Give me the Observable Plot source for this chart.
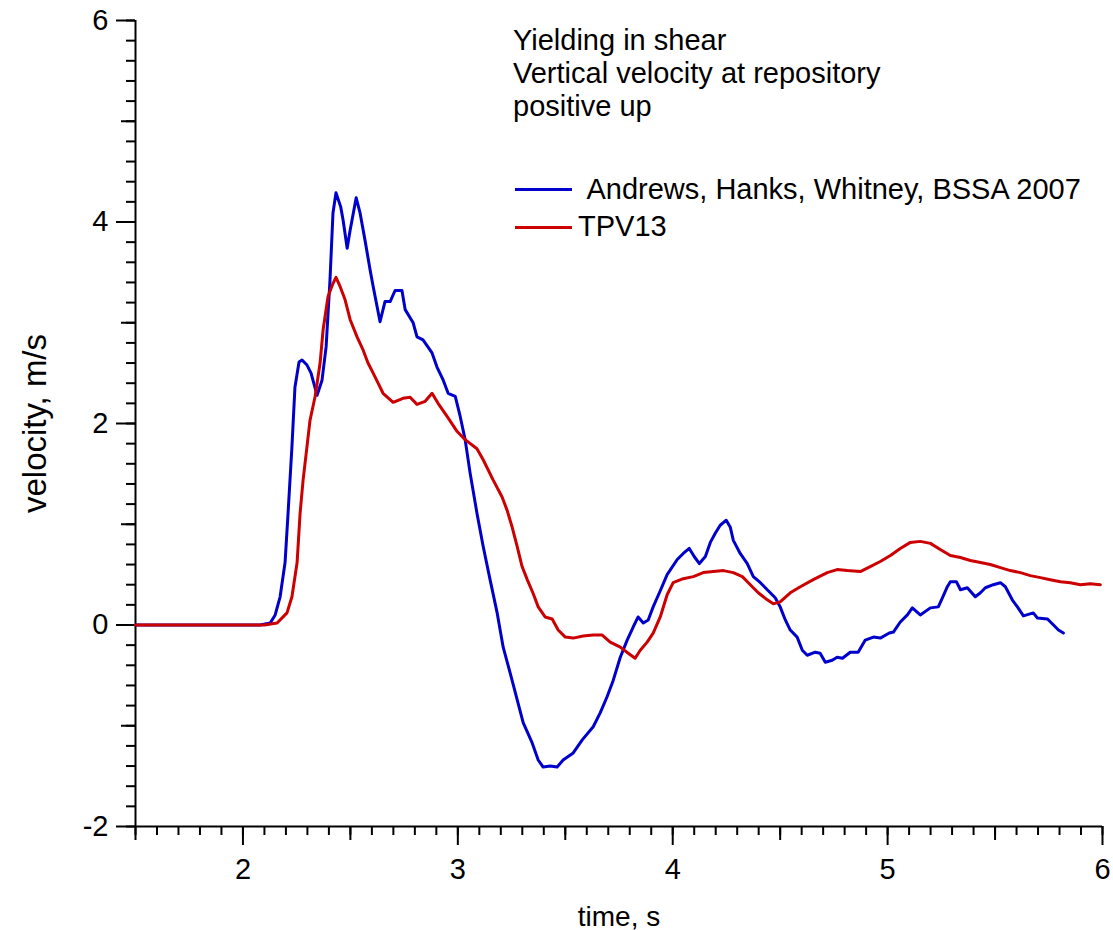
<!DOCTYPE html>
<html>
<head>
<meta charset="utf-8">
<script src="https://cdn.jsdelivr.net/npm/d3@7"></script>
<script src="https://cdn.jsdelivr.net/npm/@observablehq/plot@0.6"></script>
<style>
  body { margin: 0; background: #fff; }
  #wrap { position: relative; width: 1113px; height: 930px; overflow: hidden; font-family: "Liberation Sans", Arial, sans-serif; }
  #notes { position: absolute; left: 513px; top: 24px; font-size: 29px; line-height: 33px; color: #000; }
  .leg { position: absolute; font-size: 29px; white-space: pre; color: #000; }
  .sw { position: absolute; height: 3px; }
</style>
</head>
<body>
<div id="wrap">
  <div id="chart"></div>
  <div id="notes"></div>
  <div id="legend"></div>
</div>
<script>
// ---- data ----
const blueName = "Andrews, Hanks, Whitney, BSSA 2007";
const redName = "TPV13";
const notes = ["Yielding in shear", "Vertical velocity at repository", "positive up"];
const xLabel = "time, s";
const yLabel = "velocity, m/s";

const blueT = [1.5, 2.08, 2.127, 2.15, 2.173, 2.196, 2.21, 2.228, 2.242, 2.261, 2.275, 2.298, 2.317, 2.345, 2.368, 2.387, 2.405, 2.419, 2.433, 2.455, 2.466, 2.485, 2.499, 2.527, 2.545, 2.568, 2.592, 2.606, 2.638, 2.661, 2.685, 2.708, 2.740, 2.755, 2.792, 2.810, 2.838, 2.880, 2.903, 2.932, 2.955, 2.988, 3.011, 3.034, 3.057, 3.089, 3.118, 3.150, 3.183, 3.211, 3.244, 3.276, 3.304, 3.346, 3.374, 3.397, 3.43, 3.462, 3.490, 3.537, 3.579, 3.630, 3.663, 3.695, 3.723, 3.756, 3.788, 3.816, 3.839, 3.863, 3.886, 3.909, 3.942, 3.974, 4.021, 4.049, 4.077, 4.10, 4.124, 4.152, 4.175, 4.198, 4.221, 4.249, 4.268, 4.282, 4.314, 4.347, 4.375, 4.408, 4.440, 4.477, 4.500, 4.524, 4.547, 4.579, 4.603, 4.626, 4.663, 4.686, 4.710, 4.742, 4.765, 4.79, 4.826, 4.863, 4.896, 4.934, 4.966, 5.008, 5.027, 5.059, 5.092, 5.115, 5.152, 5.199, 5.236, 5.255, 5.278, 5.292, 5.320, 5.339, 5.371, 5.408, 5.432, 5.455, 5.492, 5.525, 5.548, 5.580, 5.604, 5.632, 5.678, 5.697, 5.744, 5.772, 5.795, 5.818];
const blueV = [0, 0, 0.02, 0.1, 0.28, 0.62, 1.11, 1.77, 2.36, 2.61, 2.63, 2.58, 2.50, 2.28, 2.43, 2.76, 3.42, 4.09, 4.29, 4.15, 4.02, 3.74, 3.92, 4.24, 4.09, 3.82, 3.52, 3.36, 3.01, 3.21, 3.21, 3.32, 3.32, 3.13, 3.00, 2.86, 2.83, 2.70, 2.56, 2.43, 2.30, 2.27, 2.07, 1.84, 1.51, 1.11, 0.78, 0.45, 0.12, -0.22, -0.48, -0.74, -0.97, -1.17, -1.34, -1.41, -1.40, -1.41, -1.34, -1.27, -1.14, -1.01, -0.87, -0.71, -0.55, -0.32, -0.15, -0.02, 0.08, 0.02, 0.05, 0.18, 0.34, 0.50, 0.65, 0.71, 0.76, 0.68, 0.61, 0.68, 0.82, 0.91, 0.99, 1.04, 0.97, 0.84, 0.71, 0.61, 0.48, 0.42, 0.35, 0.27, 0.18, 0.05, -0.05, -0.12, -0.25, -0.30, -0.27, -0.28, -0.37, -0.35, -0.32, -0.33, -0.27, -0.27, -0.15, -0.12, -0.13, -0.08, -0.07, 0.03, 0.10, 0.17, 0.10, 0.17, 0.18, 0.27, 0.38, 0.43, 0.43, 0.35, 0.37, 0.28, 0.32, 0.37, 0.40, 0.42, 0.38, 0.25, 0.18, 0.09, 0.12, 0.07, 0.06, 0.00, -0.05, -0.08];

const redT = [1.5, 2.10, 2.159, 2.205, 2.228, 2.252, 2.266, 2.280, 2.298, 2.312, 2.336, 2.359, 2.373, 2.396, 2.419, 2.433, 2.452, 2.475, 2.499, 2.531, 2.559, 2.582, 2.606, 2.629, 2.652, 2.699, 2.745, 2.778, 2.810, 2.848, 2.880, 2.908, 2.950, 2.997, 3.034, 3.089, 3.118, 3.164, 3.206, 3.229, 3.253, 3.276, 3.299, 3.323, 3.351, 3.374, 3.406, 3.439, 3.467, 3.500, 3.537, 3.583, 3.630, 3.672, 3.709, 3.756, 3.793, 3.825, 3.849, 3.881, 3.909, 3.942, 3.974, 4.002, 4.049, 4.096, 4.142, 4.189, 4.236, 4.282, 4.324, 4.361, 4.398, 4.440, 4.468, 4.500, 4.547, 4.594, 4.654, 4.719, 4.765, 4.812, 4.873, 4.910, 4.966, 5.013, 5.059, 5.106, 5.152, 5.199, 5.245, 5.292, 5.339, 5.385, 5.432, 5.478, 5.525, 5.571, 5.618, 5.664, 5.711, 5.757, 5.804, 5.850, 5.897, 5.944, 5.990];
const redV = [0, 0, 0.02, 0.12, 0.28, 0.62, 1.11, 1.44, 1.77, 2.03, 2.27, 2.60, 2.93, 3.26, 3.39, 3.45, 3.36, 3.23, 3.03, 2.86, 2.73, 2.60, 2.50, 2.40, 2.30, 2.21, 2.25, 2.26, 2.19, 2.22, 2.30, 2.20, 2.07, 1.92, 1.84, 1.75, 1.64, 1.44, 1.27, 1.14, 0.97, 0.78, 0.58, 0.45, 0.31, 0.18, 0.08, 0.06, -0.05, -0.12, -0.13, -0.11, -0.10, -0.10, -0.17, -0.22, -0.28, -0.33, -0.25, -0.17, -0.08, 0.08, 0.30, 0.42, 0.46, 0.48, 0.52, 0.53, 0.54, 0.52, 0.48, 0.40, 0.32, 0.25, 0.21, 0.23, 0.32, 0.38, 0.45, 0.52, 0.55, 0.54, 0.53, 0.57, 0.63, 0.69, 0.76, 0.82, 0.83, 0.81, 0.75, 0.69, 0.67, 0.64, 0.62, 0.60, 0.57, 0.54, 0.52, 0.49, 0.47, 0.45, 0.43, 0.42, 0.40, 0.41, 0.40];

const xMajor = [2, 3, 4, 5, 6];
const xMid = [1.5, 2.5, 3.5, 4.5, 5.5];
const xMinor = d3.range(15, 61).map(d => d / 10);
const yMajor = [-2, 0, 2, 4, 6];
const yMid = [-1, 1, 3, 5];
const yMinor = d3.range(-10, 31).map(d => d / 5);

const blueColor = "#0000cc";
const redColor = "#cc0000";

// ---- build ----
const blue = blueT.map((t, i) => ({t, v: blueV[i]}));
const red = redT.map((t, i) => ({t, v: redV[i]}));
const noText = () => "";
const yFmt = d => d < 0 ? "-" + Math.abs(d) : String(d);

const font = '"Liberation Sans", Arial, sans-serif';
const plot = Plot.plot({
  width: 1113,
  height: 930,
  marginLeft: 135,
  marginRight: 11,
  marginTop: 20,
  marginBottom: 104,
  style: {fontFamily: font, background: "#fff", color: "#000", overflow: "visible"},
  x: {domain: [1.5, 6]},
  y: {domain: [-2, 6]},
  marks: [
    Plot.axisX({ticks: xMinor, tickSize: 9, tickFormat: noText, strokeWidth: 2, label: null}),
    Plot.axisX({ticks: xMid, tickSize: 14, tickFormat: noText, strokeWidth: 2, label: null}),
    Plot.axisX({ticks: xMajor, tickSize: 19, tickFormat: noText, strokeWidth: 2, label: null}),
    Plot.axisY({ticks: yMinor, tickSize: 9, tickFormat: noText, strokeWidth: 2, label: null}),
    Plot.axisY({ticks: yMid, tickSize: 14, tickFormat: noText, strokeWidth: 2, label: null}),
    Plot.axisY({ticks: yMajor, tickSize: 19, tickFormat: noText, strokeWidth: 2, label: null}),
    Plot.text(xMajor, {x: d => d, frameAnchor: "bottom", dy: 52, text: d => String(d), fontSize: 29, fill: "#000"}),
    Plot.text(yMajor, {y: d => d, frameAnchor: "left", textAnchor: "end", dx: -27, text: yFmt, fontSize: 29, fill: "#000"}),
    Plot.ruleX([1.5], {stroke: "#000", strokeWidth: 2}),
    Plot.ruleY([-2], {stroke: "#000", strokeWidth: 2}),
    Plot.line(blue, {x: "t", y: "v", stroke: blueColor, strokeWidth: 3}),
    Plot.line(red, {x: "t", y: "v", stroke: redColor, strokeWidth: 3}),
    Plot.text([yLabel], {frameAnchor: "left", textAnchor: "middle", dx: -100, rotate: -90, fontSize: 33, fill: "#000"}),
    Plot.text([xLabel], {frameAnchor: "bottom", dy: 99, fontSize: 28, fill: "#000"})
  ]
});
document.getElementById("chart").appendChild(plot);

document.getElementById("notes").innerHTML = notes.map(s => `<div>${s}</div>`).join("");

const legend = document.getElementById("legend");
const items = [
  {name: " " + blueName, color: blueColor, lineY: 189, textX: 580, textY: 173},
  {name: redName, color: redColor, lineY: 227, textX: 578, textY: 210}
];
for (const it of items) {
  const sw = document.createElement("div");
  sw.className = "sw";
  sw.style.cssText = `left:515px;width:57px;top:${it.lineY - 1}px;background:${it.color}`;
  legend.appendChild(sw);
  const tx = document.createElement("div");
  tx.className = "leg";
  tx.style.cssText = `left:${it.textX}px;top:${it.textY}px;`;
  tx.textContent = it.name;
  legend.appendChild(tx);
}
</script>
</body>
</html>
